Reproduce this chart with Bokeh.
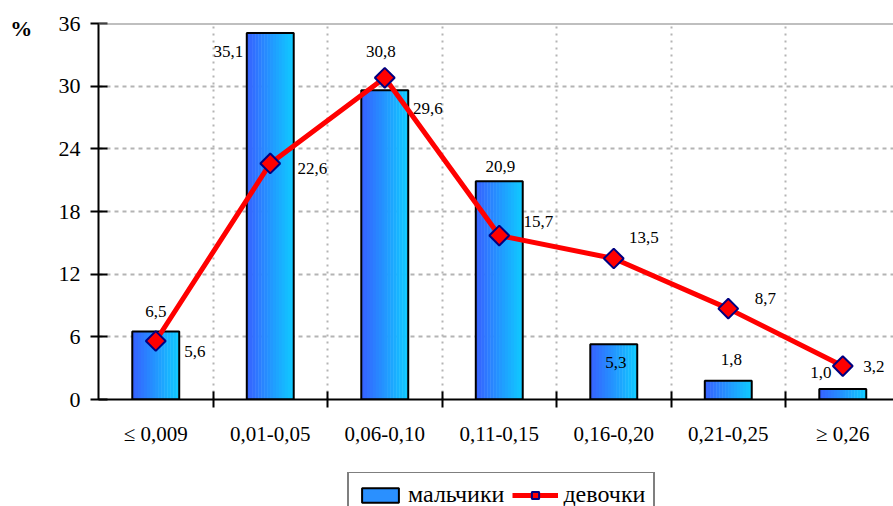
import math
from bokeh.plotting import figure
from bokeh.layouts import column
from bokeh.models import FixedTicker, Span, Legend, LegendItem, Label
from bokeh.core.properties import value
from bokeh.embed import file_html
from bokeh.resources import INLINE

# ---- data ----
categories = ["≤ 0,009", "0,01-0,05", "0,06-0,10", "0,11-0,15", "0,16-0,20", "0,21-0,25", "≥ 0,26"]
boys = [6.5, 35.1, 29.6, 20.9, 5.3, 1.8, 1.0]
girls = [5.6, 22.6, 30.8, 15.7, 13.5, 8.7, 3.2]
y_ticks = [0, 6, 12, 18, 24, 30, 36]
series_names = ["мальчики", "девочки"]

# ---- label offsets (pixels) ----
boys_dx = [0, -42, 43, 1, 2, 3, -22]
boys_dy = [-20, 19, 18, -15, 18, -21, -17]
girls_dx = [39, 42, -4, 39, 30, 37, 31]
girls_dy = [10, 5, -26, -14, -21, -10, 0]

FONT = "Liberation Serif, Times New Roman, serif"
n = len(categories)
centers = [i + 0.5 for i in range(n)]
bounds = [i + 1 for i in range(n)]

p = figure(width=893, height=472, output_backend="svg", toolbar_location=None,
           x_range=(0, 6.943), y_range=(0, 36),
           min_border_left=98, min_border_right=0, min_border_top=23, min_border_bottom=73)
p.outline_line_color = None
p.background_fill_color = "white"
p.border_fill_color = "white"

# grids
p.ygrid.ticker = FixedTicker(ticks=y_ticks[1:-1])
p.ygrid.grid_line_color = "#b4b4b4"
p.ygrid.grid_line_width = 2
p.ygrid.grid_line_dash = "4 4"

xt = FixedTicker(ticks=centers, minor_ticks=bounds)
p.xaxis.ticker = xt
p.xgrid.ticker = xt
p.xgrid.grid_line_color = None
p.xgrid.minor_grid_line_color = "#b4b4b4"
p.xgrid.minor_grid_line_width = 2
p.xgrid.minor_grid_line_dash = "2 5"

p.add_layout(Span(location=36, dimension="width", line_color="#808080", line_width=2))

# bars with horizontal gradient (strips)
bar_w = 0.41
nstrip = 16
c0 = (0x36, 0x63, 0xFF)
c1 = (0x10, 0xC8, 0xFF)
sx, stop, scol = [], [], []
for c, v in zip(centers, boys):
    for k in range(nstrip):
        t = k / (nstrip - 1)
        col = "#%02x%02x%02x" % tuple(int(round(a + (b - a) * t)) for a, b in zip(c0, c1))
        sx.append(c - bar_w / 2 + (k + 0.5) * bar_w / nstrip)
        stop.append(v)
        scol.append(col)
p.vbar(x=sx, top=stop, width=bar_w / nstrip * 1.15, fill_color=scol, line_color=None)
p.vbar(x=centers, top=boys, width=bar_w, fill_color=None, line_color="black", line_width=2)

# girls line
p.line(centers, girls, line_color="#ff0000", line_width=5)
p.scatter(centers, girls, marker="square", angle=math.pi / 4, size=14,
          fill_color="#ff0000", line_color="#000080", line_width=2)

# data labels
fmt = lambda v: ("%.1f" % v).replace(".", ",")
p.text(x=centers, y=boys, text=[fmt(v) for v in boys], x_offset=boys_dx, y_offset=boys_dy,
       text_font=value(FONT), text_font_size="17px", text_align="center", text_baseline="middle",
       text_color="black")
p.text(x=centers, y=girls, text=[fmt(v) for v in girls], x_offset=girls_dx, y_offset=girls_dy,
       text_font=value(FONT), text_font_size="17px", text_align="center", text_baseline="middle",
       text_color="black")

# axes
p.yaxis.ticker = FixedTicker(ticks=y_ticks)
p.yaxis.axis_line_color = "black"
p.yaxis.axis_line_width = 2
p.yaxis.major_tick_in = 9
p.yaxis.major_tick_out = 8
p.yaxis.major_tick_line_width = 2
p.yaxis.major_tick_line_color = "black"
p.yaxis.minor_tick_line_color = None
p.yaxis.major_label_standoff = 10
p.yaxis.major_label_text_font = FONT
p.yaxis.major_label_text_font_size = "22px"
p.yaxis.major_label_text_color = "black"

p.xaxis.axis_line_color = "black"
p.xaxis.axis_line_width = 2
p.xaxis.major_tick_in = 0
p.xaxis.major_tick_out = 0
p.xaxis.minor_tick_in = 8
p.xaxis.minor_tick_out = 8
p.xaxis.minor_tick_line_width = 2
p.xaxis.minor_tick_line_color = "black"
p.xaxis.major_label_overrides = {c: lab for c, lab in zip(centers, categories)}
p.xaxis.major_label_standoff = 14
p.xaxis.major_label_text_font = FONT
p.xaxis.major_label_text_font_size = "21px"
p.xaxis.major_label_text_color = "black"

# percent label in the left panel
p.add_layout(Label(x=-0.77, y=35.5, text="%", text_font=FONT, text_font_size="22px",
                   text_font_style="bold", text_align="left", text_baseline="middle",
                   text_color="black"), "left")

# ---- legend strip (second figure) ----
q = figure(width=893, height=34, output_backend="svg", toolbar_location=None,
           x_range=(0, 6.943), y_range=(0, 36), x_axis_location=None, y_axis_location=None,
           min_border_left=0, min_border_right=0, min_border_top=0, min_border_bottom=0)
q.outline_line_color = None
q.grid.visible = False
lb = q.vbar(x=centers, top=boys, width=bar_w, fill_color="#2a90ff", line_color="black",
            line_width=2, visible=False)
ll = q.line(centers, girls, line_color="#ff0000", line_width=5, visible=False)
ls = q.scatter(centers, girls, marker="square", angle=math.pi / 4, size=14,
               fill_color="#ff0000", line_color="#000080", line_width=2, visible=False)
legend = Legend(items=[LegendItem(label=series_names[0], renderers=[lb]),
                       LegendItem(label=series_names[1], renderers=[ll, ls])],
                orientation="horizontal", location=(249, -12))
legend.label_text_font = FONT
legend.label_text_font_size = "24px"
legend.label_text_color = "black"
legend.glyph_width = 46
legend.glyph_height = 18
legend.label_standoff = 5
legend.spacing = 8
legend.padding = 8
legend.margin = 0
legend.border_line_color = "black"
legend.border_line_width = 2
legend.background_fill_alpha = 1
q.add_layout(legend)

open("out.html", "w").write(file_html(column(p, q, spacing=0), INLINE))
